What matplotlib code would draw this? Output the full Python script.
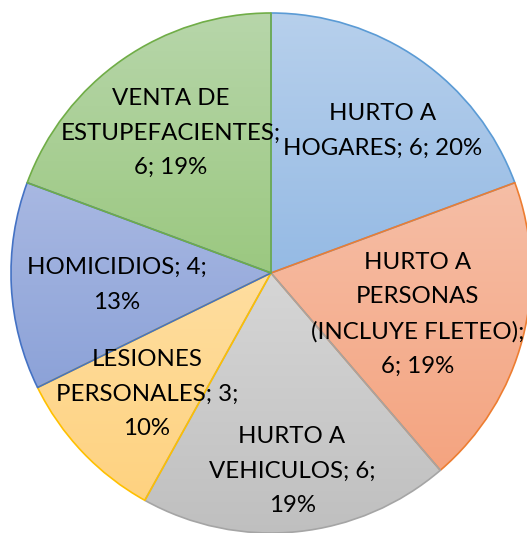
import numpy as np
import matplotlib
matplotlib.use("Agg")
import matplotlib.pyplot as plt
from matplotlib.colors import to_rgb

# ---- data ----
categories = ["HURTO A\nHOGARES", "HURTO A\nPERSONAS\n(INCLUYE FLETEO)", "HURTO A\nVEHICULOS",
              "LESIONES\nPERSONALES", "HOMICIDIOS", "VENTA DE\nESTUPEFACIENTES"]
values = [6, 6, 6, 3, 4, 6]
percent_labels = ["20%", "19%", "19%", "10%", "13%", "19%"]

# ---- styling / layout ----
edge_colors = ["#5B9BD5", "#ED7D31", "#A5A5A5", "#FFC000", "#4472C4", "#70AD47"]
top_colors = ["#B7D0EC", "#F6BEA6", "#D6D6D6", "#FFDEA0", "#A8B8E2", "#B7D6AA"]
bottom_colors = ["#95BAE4", "#F4A480", "#BFBFBF", "#FED280", "#8CA2D8", "#9BC880"]
label_texts = [
    "HURTO A\nHOGARES; 6; 20%",
    "HURTO A\nPERSONAS\n(INCLUYE FLETEO);\n6; 19%",
    "HURTO A\nVEHICULOS; 6;\n19%",
    "LESIONES\nPERSONALES; 3;\n10%",
    "HOMICIDIOS; 4;\n13%",
    "VENTA DE\nESTUPEFACIENTES;\n6; 19%",
]
# label centres in units of the pie radius, relative to the pie centre
label_xy = [(0.431, 0.546), (0.565, -0.158), (0.081, -0.762),
            (-0.477, -0.465), (-0.592, -0.046), (-0.385, 0.538)]

W, H = 527, 533
cx, cy, R = 271, 273, 260

fig = plt.figure(figsize=(W / 100, H / 100), dpi=100)
ax = fig.add_axes([0, 0, 1, 1])
ax.set_xlim(-cx / R, (W - cx) / R)
ax.set_ylim(-(H - cy) / R, cy / R)
ax.set_aspect("equal")
ax.axis("off")

wedges, _ = ax.pie(values, startangle=90, counterclock=False, radius=1.0,
                   colors=edge_colors,
                   wedgeprops=dict(linewidth=1.2, joinstyle="round"))

for i, w in enumerate(wedges):
    w.set_edgecolor(edge_colors[i])
    w.set_facecolor("none")
    w.set_zorder(3 + i)
    verts = w.get_path().vertices
    x0, x1 = verts[:, 0].min(), verts[:, 0].max()
    y0, y1 = verts[:, 1].min(), verts[:, 1].max()
    top = np.array(to_rgb(top_colors[i]))
    bot = np.array(to_rgb(bottom_colors[i]))
    t = np.linspace(0, 1, 256)[:, None]
    grad = top[None, :] * (1 - t) + bot[None, :] * t
    img = np.repeat(grad[:, None, :], 2, axis=1)
    im = ax.imshow(img, extent=(x0, x1, y0, y1), origin="upper",
                   interpolation="bilinear", zorder=1, aspect="auto")
    im.set_clip_path(w)

    lx, ly = label_xy[i]
    ax.text(lx, ly, label_texts[i],
            ha="center", va="center", fontsize=17.3, family="Lato",
            linespacing=1.78, color="black", zorder=20)

ax.set_xlim(-cx / R, (W - cx) / R)
ax.set_ylim(-(H - cy) / R, cy / R)

fig.savefig("out.png", dpi=100, facecolor="white")
